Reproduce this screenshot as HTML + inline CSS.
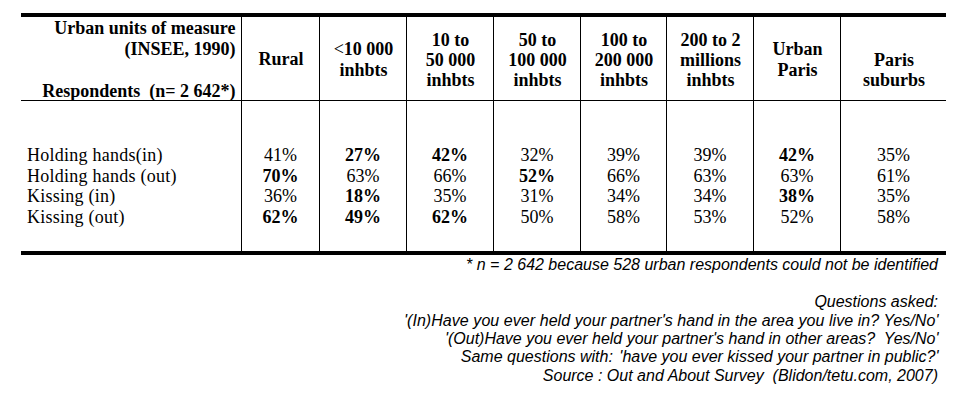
<!DOCTYPE html>
<html><head><meta charset="utf-8"><style>
html,body{margin:0;padding:0;background:#fff;}
body{width:954px;height:405px;position:relative;overflow:hidden;}
.ln{position:absolute;background:#000;}
.t{position:absolute;font-family:"Liberation Serif","Times New Roman",serif;font-size:18px;line-height:20.7px;color:#000;white-space:nowrap;}
.hc{display:flex;align-items:center;justify-content:center;text-align:center;font-weight:bold;}
.dc{text-align:center;}
.b{font-weight:bold;}
.fn{position:absolute;font-family:"Liberation Sans",Arial,sans-serif;font-style:italic;font-size:16px;line-height:18.4px;color:#000;text-align:right;white-space:pre;}
</style></head><body>

<div class="ln" style="left:21px;top:13px;width:925px;height:4px"></div>
<div class="ln" style="left:21px;top:100px;width:925px;height:1px"></div>
<div class="ln" style="left:21px;top:251px;width:925px;height:4px"></div>
<div class="ln" style="left:241px;top:17px;width:1px;height:234px"></div>
<div class="ln" style="left:319px;top:17px;width:1px;height:234px"></div>
<div class="ln" style="left:406px;top:17px;width:1px;height:234px"></div>
<div class="ln" style="left:493px;top:17px;width:1px;height:234px"></div>
<div class="ln" style="left:580px;top:17px;width:1px;height:234px"></div>
<div class="ln" style="left:666px;top:17px;width:1px;height:234px"></div>
<div class="ln" style="left:753px;top:17px;width:1px;height:234px"></div>
<div class="ln" style="left:840px;top:17px;width:1px;height:234px"></div>
<div class="t b" style="left:21px;top:18.4px;width:214.5px;text-align:right">Urban units of measure<br>(INSEE, 1990)<br><br>Respondents&nbsp; (n= 2 642*)</div>
<div class="t hc" style="left:242.5px;top:18px;width:77px;height:83px;line-height:20.7px"><div>Rural</div></div>
<div class="t hc" style="left:320.5px;top:18px;width:86px;height:83px;line-height:20.7px"><div><span style="font-weight:normal">&lt;</span>10 000<br>inhbts</div></div>
<div class="t hc" style="left:407.5px;top:18.5px;width:86px;height:83px;line-height:20.2px"><div>10 to<br>50 000<br>inhbts</div></div>
<div class="t hc" style="left:494.5px;top:18.5px;width:86px;height:83px;line-height:20.2px"><div>50 to<br>100 000<br>inhbts</div></div>
<div class="t hc" style="left:581.5px;top:18.5px;width:85px;height:83px;line-height:20.2px"><div>100 to<br>200 000<br>inhbts</div></div>
<div class="t hc" style="left:667.5px;top:18.5px;width:86px;height:83px;line-height:20.2px"><div>200 to 2<br>millions<br>inhbts</div></div>
<div class="t hc" style="left:754.5px;top:18px;width:86px;height:83px;line-height:20.7px"><div>Urban<br>Paris</div></div>
<div class="t hc" style="left:841.5px;top:18.5px;width:105px;height:83px;line-height:20.2px"><div>&nbsp;<br>Paris<br>suburbs</div></div>
<div class="t" style="left:27px;top:144.6px;letter-spacing:0.25px">Holding hands(in)</div>
<div class="t dc" style="left:242px;top:144.6px;width:77px">41%</div>
<div class="t dc" style="left:320px;top:144.6px;width:86px"><span class="b">27%</span></div>
<div class="t dc" style="left:407px;top:144.6px;width:86px"><span class="b">42%</span></div>
<div class="t dc" style="left:494px;top:144.6px;width:86px">32%</div>
<div class="t dc" style="left:581px;top:144.6px;width:85px">39%</div>
<div class="t dc" style="left:667px;top:144.6px;width:86px">39%</div>
<div class="t dc" style="left:754px;top:144.6px;width:86px"><span class="b">42%</span></div>
<div class="t dc" style="left:841px;top:144.6px;width:105px">35%</div>
<div class="t" style="left:27px;top:165.6px;letter-spacing:0.25px">Holding hands (out)</div>
<div class="t dc" style="left:242px;top:165.6px;width:77px"><span class="b">70%</span></div>
<div class="t dc" style="left:320px;top:165.6px;width:86px">63%</div>
<div class="t dc" style="left:407px;top:165.6px;width:86px">66%</div>
<div class="t dc" style="left:494px;top:165.6px;width:86px"><span class="b">52%</span></div>
<div class="t dc" style="left:581px;top:165.6px;width:85px">66%</div>
<div class="t dc" style="left:667px;top:165.6px;width:86px">63%</div>
<div class="t dc" style="left:754px;top:165.6px;width:86px">63%</div>
<div class="t dc" style="left:841px;top:165.6px;width:105px">61%</div>
<div class="t" style="left:27px;top:185.6px;letter-spacing:0.25px">Kissing (in)</div>
<div class="t dc" style="left:242px;top:185.6px;width:77px">36%</div>
<div class="t dc" style="left:320px;top:185.6px;width:86px"><span class="b">18%</span></div>
<div class="t dc" style="left:407px;top:185.6px;width:86px">35%</div>
<div class="t dc" style="left:494px;top:185.6px;width:86px">31%</div>
<div class="t dc" style="left:581px;top:185.6px;width:85px">34%</div>
<div class="t dc" style="left:667px;top:185.6px;width:86px">34%</div>
<div class="t dc" style="left:754px;top:185.6px;width:86px"><span class="b">38%</span></div>
<div class="t dc" style="left:841px;top:185.6px;width:105px">35%</div>
<div class="t" style="left:27px;top:206.6px;letter-spacing:0.25px">Kissing (out)</div>
<div class="t dc" style="left:242px;top:206.6px;width:77px"><span class="b">62%</span></div>
<div class="t dc" style="left:320px;top:206.6px;width:86px"><span class="b">49%</span></div>
<div class="t dc" style="left:407px;top:206.6px;width:86px"><span class="b">62%</span></div>
<div class="t dc" style="left:494px;top:206.6px;width:86px">50%</div>
<div class="t dc" style="left:581px;top:206.6px;width:85px">58%</div>
<div class="t dc" style="left:667px;top:206.6px;width:86px">53%</div>
<div class="t dc" style="left:754px;top:206.6px;width:86px">52%</div>
<div class="t dc" style="left:841px;top:206.6px;width:105px">58%</div>
<div class="fn" style="right:16.0px;top:256.4px;">* n = 2 642 because 528 urban respondents could not be identified</div>
<div class="fn" style="right:16.0px;top:293.2px;">Questions asked:</div>
<div class="fn" style="right:15.5px;top:311.6px;letter-spacing:0.06px;">'(In)Have you ever held your partner's hand in the area you live in? Yes/No'</div>
<div class="fn" style="right:15.5px;top:330.0px;">'(Out)Have you ever held your partner's hand in other areas?  Yes/No'</div>
<div class="fn" style="right:15.5px;top:348.4px;">Same questions with:<span style="padding-left:2px"> </span>'have you ever kissed your partner in public?'</div>
<div class="fn" style="right:16.0px;top:366.8px;">Source : Out and About Survey  (Blidon/tetu.com, 2007)</div>
</body></html>
